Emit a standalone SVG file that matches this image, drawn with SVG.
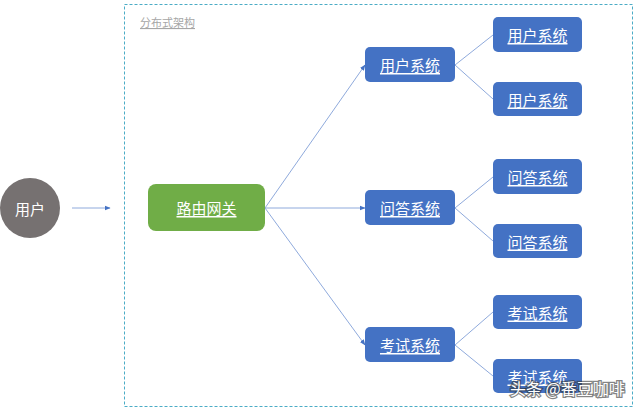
<svg xmlns="http://www.w3.org/2000/svg" width="640" height="408" viewBox="0 0 640 408">
<style>
.t{font-family:"Noto Sans CJK SC","Liberation Sans",sans-serif;font-size:15px;fill:#fff;text-anchor:middle;text-decoration:underline;dominant-baseline:central}
.b{fill:#4472C4}
.c{stroke:#8FAADC;stroke-width:1;fill:none}
</style>
<defs>
<marker id="a" viewBox="0 0 10 10" refX="9" refY="5" markerWidth="6" markerHeight="6" orient="auto" markerUnits="userSpaceOnUse">
<path d="M0,1 L10,5 L0,9 z" fill="#4472C4"/>
</marker>
</defs>
<rect width="640" height="408" fill="#fff"/>
<g id="boundary">
<rect x="124.5" y="4.5" width="508" height="402" fill="none" stroke="#4BACC6" stroke-width="1" stroke-dasharray="3,2"/>
<text x="140" y="22" font-family="Noto Sans CJK SC,sans-serif" font-size="11" fill="#A6A6A6" text-decoration="underline" dominant-baseline="central">分布式架构</text>
</g>
<g id="connectors">
<line class="c" x1="72" y1="208" x2="110" y2="208" marker-end="url(#a)"/>
<line class="c" x1="265" y1="208" x2="365" y2="65" marker-end="url(#a)"/>
<line class="c" x1="265" y1="208" x2="365" y2="208" marker-end="url(#a)"/>
<line class="c" x1="265" y1="208" x2="365" y2="345" marker-end="url(#a)"/>
<line class="c" x1="455" y1="65" x2="493" y2="35"/>
<line class="c" x1="455" y1="65" x2="493" y2="99"/>
<line class="c" x1="455" y1="208" x2="493" y2="177"/>
<line class="c" x1="455" y1="208" x2="493" y2="241"/>
<line class="c" x1="455" y1="345" x2="493" y2="312"/>
<line class="c" x1="455" y1="345" x2="493" y2="376"/>
</g>
<g id="user">
<circle cx="30" cy="208" r="30" fill="#767171"/>
<text class="t" x="30" y="208" style="text-decoration:none">用户</text>
</g>
<g id="gateway">
<rect x="148" y="184" width="117" height="47" rx="8" fill="#70AD47"/>
<text class="t" x="206.5" y="207.5">路由网关</text>
</g>
<g id="user-sys">
<rect class="b" x="365" y="47" width="90" height="35" rx="5"/>
<text class="t" x="410" y="64.5">用户系统</text>
</g>
<g id="qa-sys">
<rect class="b" x="365" y="190" width="90" height="35" rx="5"/>
<text class="t" x="410" y="207.5">问答系统</text>
</g>
<g id="exam-sys">
<rect class="b" x="365" y="327" width="90" height="35" rx="5"/>
<text class="t" x="410" y="344.5">考试系统</text>
</g>
<g id="user-sys-1">
<rect class="b" x="493" y="17" width="89" height="35" rx="5"/>
<text class="t" x="537.5" y="34.5">用户系统</text>
</g>
<g id="user-sys-2">
<rect class="b" x="493" y="82" width="89" height="34" rx="5"/>
<text class="t" x="537.5" y="99">用户系统</text>
</g>
<g id="qa-sys-1">
<rect class="b" x="493" y="159" width="89" height="35" rx="5"/>
<text class="t" x="537.5" y="176.5">问答系统</text>
</g>
<g id="qa-sys-2">
<rect class="b" x="493" y="224" width="89" height="34" rx="5"/>
<text class="t" x="537.5" y="241">问答系统</text>
</g>
<g id="exam-sys-1">
<rect class="b" x="493" y="295" width="89" height="34" rx="5"/>
<text class="t" x="537.5" y="312">考试系统</text>
</g>
<g id="exam-sys-2">
<rect class="b" x="493" y="359" width="89" height="34" rx="5"/>
<text class="t" x="537.5" y="376">考试系统</text>
</g>
<g id="watermark">
<text x="510" y="388" font-family="Noto Sans CJK SC,sans-serif" font-size="16" fill="#fff" stroke="#333" stroke-width="2.5" paint-order="stroke" stroke-opacity="0.6" dominant-baseline="central">头条 @番豆咖啡</text>
</g>
</svg>
